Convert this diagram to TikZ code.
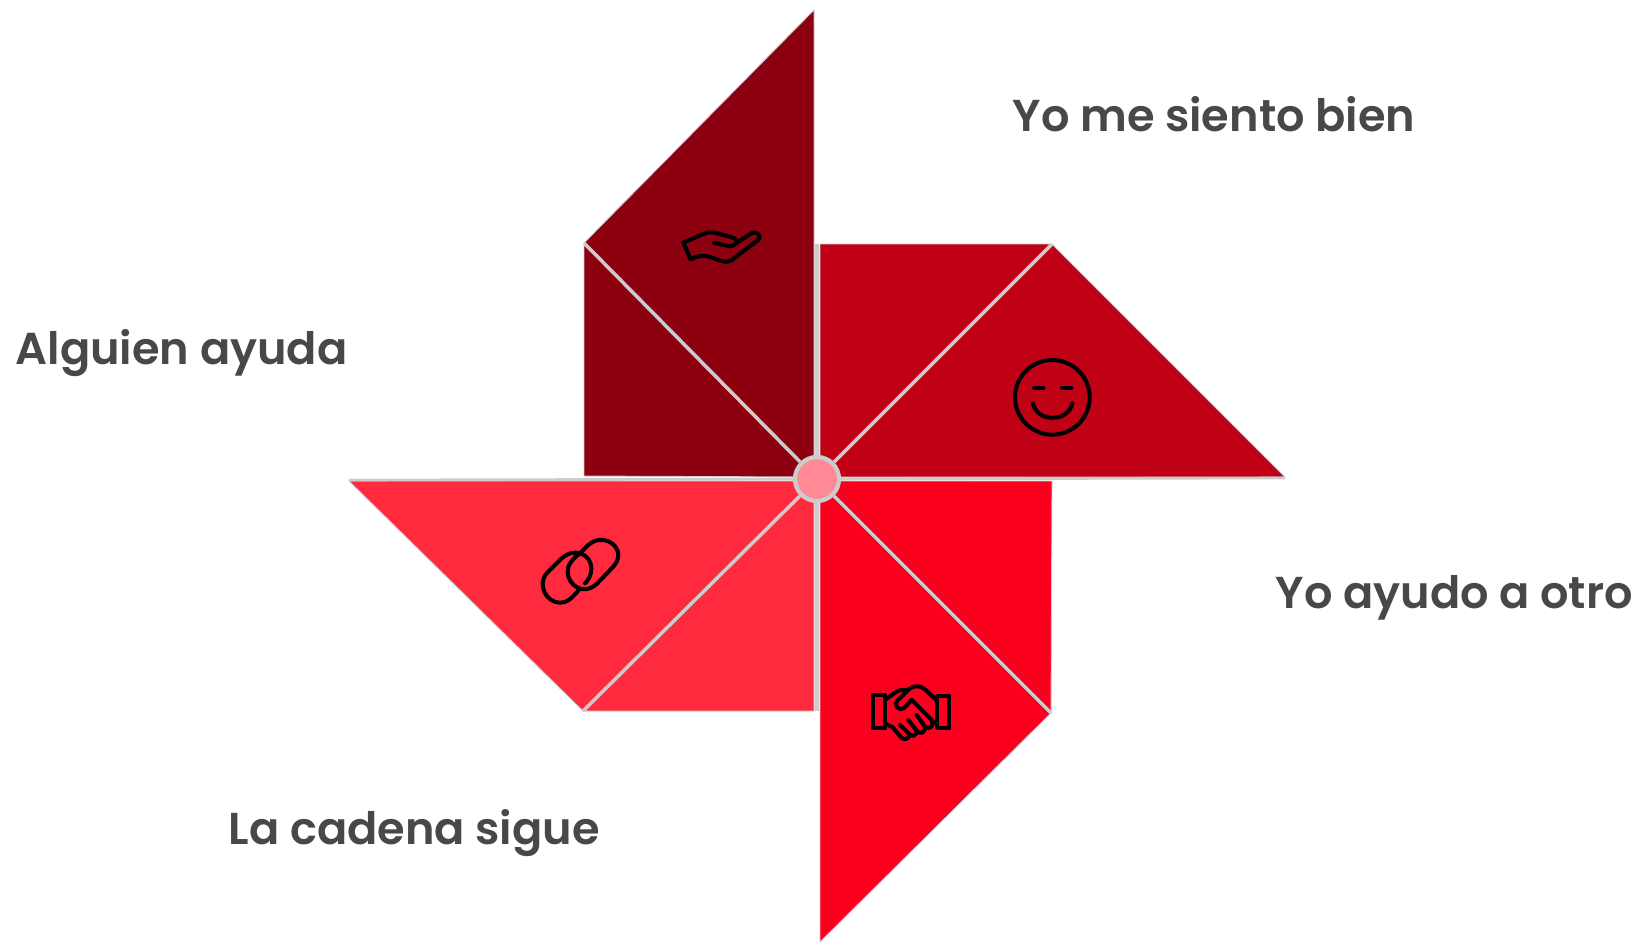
\documentclass[tikz,border=0pt]{standalone}
\usepackage{fontspec}
\setmainfont{Poppins SemiBold}
\definecolor{bladeA}{HTML}{8C000F}
\definecolor{bladeB}{HTML}{BF0015}
\definecolor{bladeC}{HTML}{FA001E}
\definecolor{bladeD}{HTML}{FF2A3E}
\definecolor{hubfill}{HTML}{FF8A95}
\definecolor{sep}{HTML}{CCCCCC}
\definecolor{labeltxt}{HTML}{484848}
\tikzset{
  blade/.style={draw=sep,line width=0.25pt,line join=miter},
  fold/.style={draw=sep,line width=1pt},
  flatfold/.style={draw=sep,line width=0.75pt},
  iconline/.style={draw=black,line width=1.15pt,line cap=round,line join=round},
  lbl/.style={text=labeltxt,font=\fontsize{12.7}{15}\selectfont,anchor=base west,inner sep=0pt},
}
\begin{document}
\begin{tikzpicture}[x=0.01cm,y=-0.01cm]
\useasboundingbox (0,0) rectangle (1640,942);
\fill[white] (0,0) rectangle (1640,942);
% blades
\filldraw[blade,fill=bladeA] (814,10) -- (584,243) -- (584,476) -- (814,477) -- cycle;
\filldraw[blade,fill=bladeB] (820,244) -- (1052,244) -- (1285,477) -- (820,477) -- cycle;
\filldraw[blade,fill=bladeC] (1052,481) -- (1051,713) -- (820,942) -- (820,481) -- cycle;
\filldraw[blade,fill=bladeD] (349,481) -- (583,711) -- (814,711) -- (814,481) -- cycle;
% named points
\coordinate (ca) at (584,243);
\coordinate (cb) at (1052,244);
\coordinate (cc) at (1051,713);
\coordinate (cd) at (583,711);
\coordinate (up) at (817,244);
\coordinate (dn) at (817,711);
\coordinate (lf) at (349,480);
\coordinate (rt) at (1285,478);
\node[circle,minimum size=0.44cm,inner sep=0pt,draw=sep,line width=1.2pt,fill=hubfill] (hub) at (817,479) {};
\draw[fold] (hub) -- (ca);
\draw[fold] (hub) -- (cb);
\draw[fold] (hub) -- (cc);
\draw[fold] (hub) -- (cd);
\draw[fold] (hub) -- (up);
\draw[fold] (hub) -- (dn);
\draw[flatfold] (hub) -- (lf);
\draw[flatfold] (hub) -- (rt);
% smile
\begin{scope}[shift={(990,340)},x=0.01cm/3,y=-0.01cm/3]
\draw[iconline] (187,172) circle [radius=0.373cm];
\draw[iconline] (132,143) -- (160,143);
\draw[iconline] (216,143) -- (244,143);
\draw[iconline] (129,190) .. controls (140,248) and (235,248) .. (247,190);
\end{scope}
% hand
\begin{scope}[shift={(640,200)},x=0.01cm/3,y=-0.01cm/3]
\draw[iconline] (130,128) -- (190,102) .. controls (210,92) and (225,97) .. (275,112)
  .. controls (290,118) and (292,122) .. (290,128) -- (335,100)
  .. controls (352,90) and (368,110) .. (352,122) -- (285,172)
  .. controls (270,188) and (255,188) .. (235,180) .. controls (205,168) and (185,160) .. (152,178) -- cycle;
\draw[iconline] (222,128) -- (265,138) .. controls (278,140) and (285,135) .. (290,128);
\end{scope}
% links
\begin{scope}[shift={(520,520)},x=0.01cm/3,y=-0.01cm/3]
\draw[iconline] (195,190) .. controls (230,155) and (215,98) .. (165,98)
  .. controls (145,98) and (135,108) .. (125,115) -- (80,160)
  .. controls (50,195) and (80,248) .. (120,248)
  .. controls (140,248) and (150,240) .. (175,212);
\draw[iconline] (150,130) .. controls (160,115) and (170,108) .. (180,100) -- (205,75)
  .. controls (245,40) and (295,70) .. (295,105)
  .. controls (295,122) and (285,135) .. (275,145) -- (232,190)
  .. controls (190,230) and (143,195) .. (143,155)
  .. controls (143,145) and (146,136) .. (150,130);
\end{scope}
% handshake
\begin{scope}[shift={(860,670)},x=0.01cm/3,y=-0.01cm/3]
\draw[iconline] (38,75) rectangle (75,175);
\draw[iconline] (232,78) rectangle (268,175);
\draw[iconline] (75,90) -- (105,68) .. controls (115,60) and (130,58) .. (140,60);
\draw[iconline] (232,92) -- (205,68) .. controls (185,45) and (165,45) .. (150,55) -- (112,92)
  .. controls (100,108) and (118,125) .. (132,114) -- (155,90) -- (215,150)
  .. controls (225,165) and (210,182) .. (195,170) -- (170,135);
\draw[iconline] (195,178) .. controls (190,190) and (178,192) .. (170,182) -- (145,150);
\draw[iconline] (170,185) .. controls (168,198) and (155,202) .. (148,192) -- (120,165);
\draw[iconline] (75,160) -- (98,172) -- (125,204) .. controls (135,212) and (148,205) .. (148,192);
\draw[iconline] (218,155) -- (232,160);
\end{scope}
% labels
\node[lbl] (t1) at (1012,131) {Yo me siento bien};
\node[lbl] (t2) at (15,364) {Alguien ayuda};
\node[lbl] (t3) at (1275,608) {Yo ayudo a otro};
\node[lbl] (t4) at (228,844) {La cadena sigue};
\end{tikzpicture}
\end{document}
